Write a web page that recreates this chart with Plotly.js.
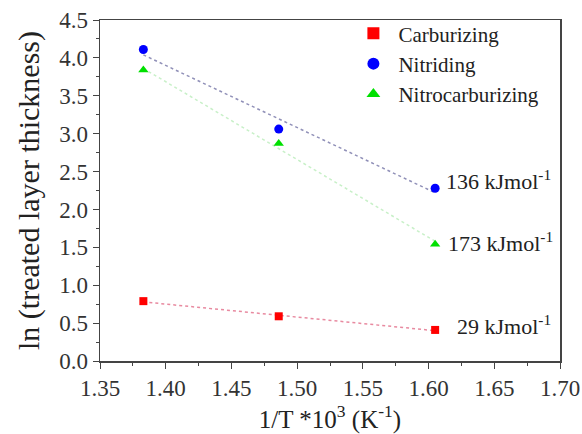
<!DOCTYPE html>
<html><head><meta charset="utf-8">
<script src="https://cdn.plot.ly/plotly-3.0.1.min.js"></script>
<style>body{margin:0;background:#fff}#g{width:582px;height:434px}</style>
</head><body><div id="g"></div>
<script>
const invT = [1.383, 1.486, 1.605];
const carburizing = [0.79, 0.59, 0.41];
const nitriding = [4.11, 3.06, 2.28];
const nitrocarburizing = [3.84, 2.87, 1.54];
const fitX = [1.383, 1.605];
const carbFit = [0.78, 0.40];
const nitFit = [4.04, 2.22];
const nitcFit = [3.86, 1.58];
const energies = ['136 kJmol<sup>-1</sup>', '173 kJmol<sup>-1</sup>', '29 kJmol<sup>-1</sup>'];
const energyY = [2.28, 1.54, 0.41];
const energyShift = [9, 11, 20];
const energyYShift = [8, 2, 5];

const font = 'Liberation Serif';
const traces = [
  {x: fitX, y: carbFit, mode: 'lines', line: {color: '#e88aa0', dash: 'dot', width: 1.5}, showlegend: false, hoverinfo: 'skip'},
  {x: fitX, y: nitFit, mode: 'lines', line: {color: '#9090b8', dash: 'dot', width: 1.5}, showlegend: false, hoverinfo: 'skip'},
  {x: fitX, y: nitcFit, mode: 'lines', line: {color: '#c8f0c8', dash: 'dot', width: 1.5}, showlegend: false, hoverinfo: 'skip'},
  {x: invT, y: carburizing, mode: 'markers', name: 'Carburizing', marker: {symbol: 'square', color: '#ff0000', size: 8}},
  {x: invT, y: nitriding, mode: 'markers', name: 'Nitriding', marker: {symbol: 'circle', color: '#0000ff', size: 9}},
  {x: invT, y: nitrocarburizing, mode: 'markers', name: 'Nitrocarburizing', marker: {symbol: 'triangle-up', color: '#00e000', size: 9}}
];
const annotations = energies.map((t, i) => ({
  x: invT[2], y: energyY[i], text: t, showarrow: false, xanchor: 'left', xshift: energyShift[i], yshift: energyYShift[i],
  font: {family: font, size: 22, color: '#222'}
}));
const axisCommon = {
  showline: true, mirror: true, linecolor: '#444', linewidth: 1.5, ticks: 'outside', ticklen: 6, tickcolor: '#444',
  showgrid: false, zeroline: false, tickfont: {family: font, size: 23, color: '#333'}
};
const layout = {
  width: 582, height: 434, margin: {l: 100, r: 22, t: 20, b: 73},
  paper_bgcolor: '#fff', plot_bgcolor: '#fff',
  font: {family: font},
  xaxis: Object.assign({}, axisCommon, {range: [1.35, 1.70], dtick: 0.05, tickformat: '.2f', minor: {ticks: 'outside', ticklen: 3, tickcolor: '#444', dtick: 0.025},
    title: {text: '1/T *10<sup>3</sup> (K<sup>-1</sup>)', font: {family: font, size: 25, color: '#222'}, standoff: 2}}),
  yaxis: Object.assign({}, axisCommon, {range: [0, 4.5], dtick: 0.5, tickformat: '.1f', minor: {ticks: 'outside', ticklen: 3, tickcolor: '#444', dtick: 0.25},
    title: {text: 'ln (treated layer thickness)', font: {family: font, size: 30, color: '#222'}, standoff: 10}}),
  legend: {x: 0.54, y: 1.02, xanchor: 'left', yanchor: 'top', bgcolor: 'rgba(0,0,0,0)', font: {family: font, size: 21, color: '#222'}, tracegroupgap: 0, itemsizing: 'constant', itemwidth: 40},
  annotations: annotations,
  showlegend: true
};
Plotly.newPlot('g', traces, layout, {staticPlot: true});
</script></body></html>
